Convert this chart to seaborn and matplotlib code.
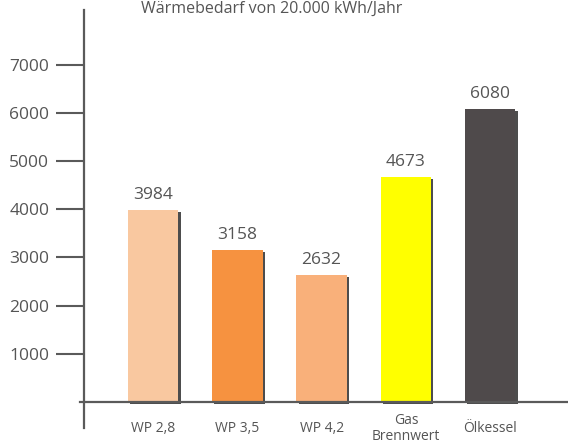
import matplotlib
matplotlib.use("Agg")
import matplotlib.pyplot as plt
import matplotlib.patheffects as pe
import seaborn as sns
import pandas as pd

categories = ["WP 2,8", "WP 3,5", "WP 4,2", "Gas\nBrennwert", "Ölkessel"]
values = [3984, 3158, 2632, 4673, 6080]
colors = ["#F9C8A0", "#F69240", "#F9B07A", "#FFFF00", "#4F4A4B"]
yticks = [1000, 2000, 3000, 4000, 5000, 6000, 7000]
title = "Wärmebedarf von 20.000 kWh/Jahr"

sns.set_style("white")
plt.rcParams["font.family"] = ["Open Sans", "DejaVu Sans"]

df = pd.DataFrame({"cat": categories, "val": values})

fig = plt.figure(figsize=(5.68, 4.46), dpi=100)
ax = fig.add_axes([80 / 568, 18 / 446, 488 / 568, 418 / 446])

sns.barplot(data=df, x="cat", y="val", hue="cat", palette=dict(zip(categories, colors)),
            width=0.6, legend=False, ax=ax, saturation=1, linewidth=0, edgecolor="none")

for p in ax.patches:
    p.set_path_effects([pe.SimplePatchShadow(offset=(1.6, -1.6), shadow_rgbFace="#3a3a3a", alpha=0.9),
                        pe.Normal()])

for c in ax.containers:
    ax.bar_label(c, labels=[f"{int(round(b.get_height()))}" for b in c], padding=5,
                 fontsize=12.5, color="#555555")

ax.set_xlim(-0.866, 4.923)
ax.set_ylim(-539, 8133)
ax.set_xlabel("")
ax.set_ylabel("")

for s in ["top", "right"]:
    ax.spines[s].set_visible(False)
ax.spines["left"].set_position(("data", -0.818))
ax.spines["bottom"].set_position(("data", 0))
for s in ["left", "bottom"]:
    ax.spines[s].set_color("#5a5a5a")
    ax.spines[s].set_linewidth(1.6)

ax.set_yticks(yticks)
ax.set_yticklabels([str(t) for t in yticks])
ax.tick_params(axis="y", direction="out", length=20, width=1.5, color="#5a5a5a",
               labelsize=12.5, labelcolor="#555555", pad=5, left=True)
ax.tick_params(axis="x", length=0, labelsize=10, labelcolor="#555555", pad=19)
for lbl in ax.get_xticklabels():
    lbl.set_va("center")
    lbl.set_linespacing(1.1)

fig.text(0.479, 0.999, title, ha="center", va="top", fontsize=11.5, color="#555555")

fig.savefig("out.png", dpi=100)
